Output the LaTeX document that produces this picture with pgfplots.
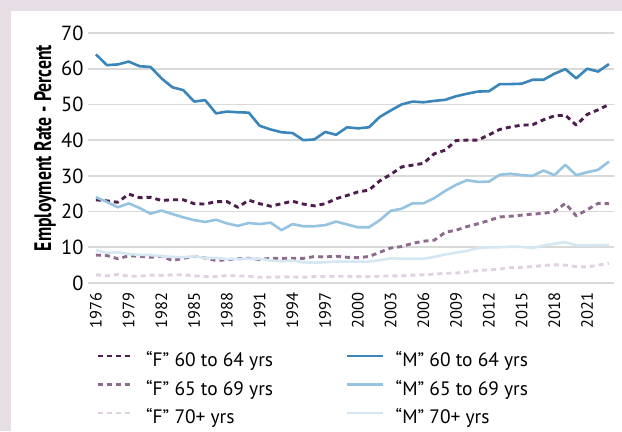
\documentclass[border=0pt]{standalone}
\usepackage{fontspec}
\setmainfont{PT Sans}
\usepackage{pgfplots}
\usepackage{pgfplotstable}
\pgfplotsset{compat=1.18}
\definecolor{bg}{HTML}{E6DDE5}
\definecolor{gridgray}{HTML}{D9D9D9}
\definecolor{mA}{HTML}{3A86BA}
\definecolor{mB}{HTML}{96C3E0}
\definecolor{mC}{HTML}{D5E7F2}
\definecolor{fA}{HTML}{4F1C4F}
\definecolor{fB}{HTML}{8E6A8E}
\definecolor{fC}{HTML}{E2D2E0}
\pgfplotstableread{
year F60 M60 F65 M65 F70 M70
1976 23.3 64.0 7.8 24.0 2.3 9.2
1977 23.0 61.0 7.7 22.7 2.0 8.4
1978 22.6 61.2 6.8 21.2 2.4 8.6
1979 24.9 62.0 7.6 22.3 1.9 8.1
1980 23.9 60.7 7.5 21.0 1.9 7.9
1981 24.0 60.5 7.2 19.4 2.2 7.8
1982 23.1 57.3 7.5 20.3 2.1 7.5
1983 23.3 54.8 6.3 19.3 2.3 7.3
1984 23.3 54.0 6.9 18.4 2.3 7.2
1985 22.2 50.8 7.5 17.6 2.0 7.5
1986 22.1 51.2 7.0 17.1 1.8 7.0
1987 22.8 47.5 6.3 17.7 1.8 7.0
1988 22.8 48.0 6.5 16.7 2.1 6.7
1989 21.2 47.8 6.8 16.0 2.0 6.7
1990 23.2 47.7 6.9 16.8 1.9 6.8
1991 22.2 44.0 6.6 16.5 1.6 6.8
1992 21.5 43.0 6.9 16.9 1.6 6.3
1993 22.2 42.2 6.9 14.8 1.7 6.1
1994 22.9 42.0 6.9 16.5 1.7 6.3
1995 22.1 40.0 6.9 15.9 1.6 5.8
1996 21.6 40.2 7.4 15.9 1.8 5.7
1997 22.2 42.3 7.3 16.2 1.8 5.8
1998 23.6 41.5 7.5 17.2 1.9 6.0
1999 24.5 43.6 7.2 16.4 1.9 6.0
2000 25.5 43.3 7.1 15.6 1.8 6.0
2001 26.0 43.6 7.4 15.6 1.8 6.0
2002 28.6 46.5 8.6 17.6 1.9 6.4
2003 30.4 48.3 9.8 20.2 2.0 6.9
2004 32.5 50.0 10.2 20.8 2.0 6.8
2005 33.0 50.8 11.1 22.3 2.2 6.8
2006 33.5 50.6 11.7 22.3 2.3 6.8
2007 36.2 51.0 12.0 23.8 2.5 7.3
2008 37.2 51.3 14.2 25.8 2.7 8.0
2009 39.9 52.3 14.8 27.5 2.8 8.5
2010 40.0 53.0 15.8 28.8 3.1 9.0
2011 40.0 53.6 16.6 28.3 3.5 9.8
2012 41.5 53.7 17.5 28.4 3.7 10.0
2013 43.0 55.7 18.5 30.3 3.9 10.0
2014 43.7 55.7 18.7 30.6 4.3 10.2
2015 44.2 55.8 19.0 30.2 4.4 10.1
2016 44.3 56.9 19.3 30.0 4.6 9.8
2017 45.7 56.9 19.5 31.5 4.9 10.5
2018 46.8 58.6 20.0 30.2 5.1 11.0
2019 47.0 59.9 22.3 33.1 5.0 11.4
2020 44.2 57.3 18.8 30.2 4.6 10.6
2021 47.2 60.0 20.5 31.0 4.5 10.5
2022 48.5 59.2 22.3 31.7 5.0 10.6
2023 50.0 61.3 22.2 34.0 5.5 10.7
}\datatable
\begin{document}
\begin{tikzpicture}[x=1bp,y=1bp]
\fill[bg] (0,0) rectangle (622,431);
\fill[white] (11,0) rectangle (622,420);
\path[use as bounding box] (0,0) rectangle (622,431);
\node[rotate=90] at (45,283) {\scalebox{0.74}[1]{\fontsize{24}{24}\selectfont\bfseries Employment Rate - Percent}};
\begin{axis}[
  at={(88bp,148bp)}, anchor=south west,
  scale only axis, width=526bp, height=250bp,
  xmin=1975.27, xmax=2023.46, ymin=0, ymax=70,
  axis line style={draw=none}, major tick length=0pt,
  ytick={0,10,...,70}, xtick={1976,1979,...,2021},
  ymajorgrids, grid style={color=gridgray, line width=1.6bp},
  /pgf/number format/assume math mode=true,
  /pgf/number format/1000 sep={},
  x tick label style={rotate=90, anchor=east, font=\fontsize{16.5}{16.5}\selectfont},
  y tick label style={font=\fontsize{20.5}{20.5}\selectfont},
  xticklabel shift=6bp, yticklabel shift=1bp,
  legend columns=2,
  legend style={at={(axis description cs:0.0152,-0.275)}, anchor=north west,
    draw=none, fill=none, inner sep=0pt, row sep=9.5bp, column sep=0pt,
    nodes={inner sep=0pt, text height=15bp, text depth=4bp, font=\fontsize{19.5}{19.5}\selectfont}},
  legend cell align=left,
  legend image code/.code={\draw[#1] (0bp,5.5bp) -- (36bp,5.5bp);},
  every axis plot/.append style={line width=2.6bp, line join=round},
]
\addplot[fA, line width=2.9bp, dash pattern=on 5bp off 4bp] table[x=year,y=F60] {\datatable};
\addlegendentry{\hspace*{11bp}\makebox[200bp][l]{“F” 60 to 64 yrs}}
\addplot[mA] table[x=year,y=M60] {\datatable};
\addlegendentry{\hspace*{11bp}“M” 60 to 64 yrs}
\addplot[fB, line width=2.9bp, dash pattern=on 5bp off 4bp] table[x=year,y=F65] {\datatable};
\addlegendentry{\hspace*{11bp}\makebox[200bp][l]{“F” 65 to 69 yrs}}
\addplot[mB] table[x=year,y=M65] {\datatable};
\addlegendentry{\hspace*{11bp}“M” 65 to 69 yrs}
\addplot[fC, line width=2.9bp, dash pattern=on 5bp off 4bp] table[x=year,y=F70] {\datatable};
\addlegendentry{\hspace*{11bp}\makebox[200bp][l]{“F” 70+ yrs}}
\addplot[mC] table[x=year,y=M70] {\datatable};
\addlegendentry{\hspace*{11bp}“M” 70+ yrs}
\end{axis}
\end{tikzpicture}
\end{document}
